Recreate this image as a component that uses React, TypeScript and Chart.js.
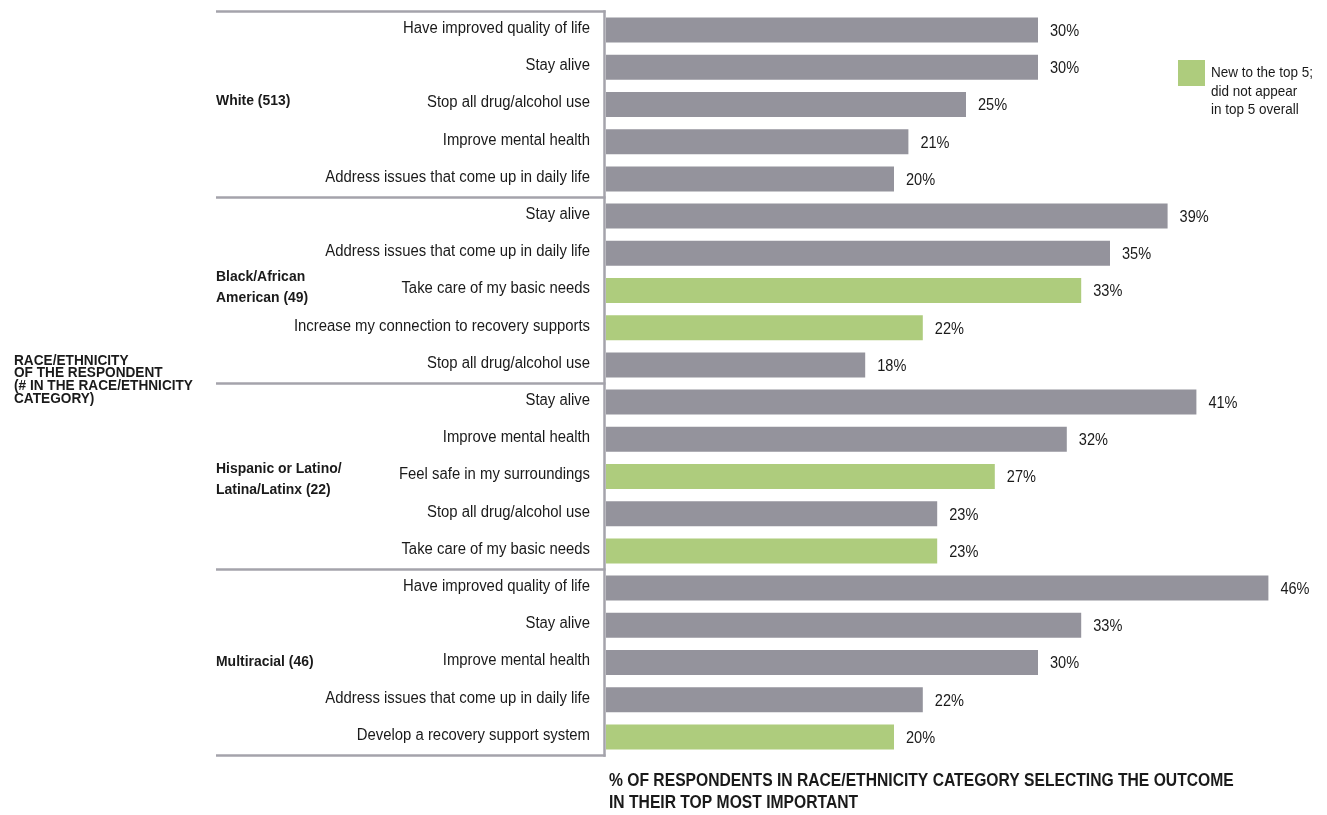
import React, { useEffect, useRef } from "react";
import { Chart, registerables } from "chart.js";

Chart.register(...registerables);

const groupNames: string[][] = [
  ["White (513)"],
  ["Black/African", "American (49)"],
  ["Hispanic or Latino/", "Latina/Latinx (22)"],
  ["Multiracial (46)"],
];

const whiteOutcomes = ["Have improved quality of life", "Stay alive", "Stop all drug/alcohol use", "Improve mental health", "Address issues that come up in daily life"];
const whiteValues = [30, 30, 25, 21, 20];
const whiteNew = [false, false, false, false, false];

const blackOutcomes = ["Stay alive", "Address issues that come up in daily life", "Take care of my basic needs", "Increase my connection to recovery supports", "Stop all drug/alcohol use"];
const blackValues = [39, 35, 33, 22, 18];
const blackNew = [false, false, true, true, false];

const hispanicOutcomes = ["Stay alive", "Improve mental health", "Feel safe in my surroundings", "Stop all drug/alcohol use", "Take care of my basic needs"];
const hispanicValues = [41, 32, 27, 23, 23];
const hispanicNew = [false, false, true, false, true];

const multiOutcomes = ["Have improved quality of life", "Stay alive", "Improve mental health", "Address issues that come up in daily life", "Develop a recovery support system"];
const multiValues = [46, 33, 30, 22, 20];
const multiNew = [false, false, false, false, true];

const leftTitle = ["RACE/ETHNICITY", "OF THE RESPONDENT", "(# IN THE RACE/ETHNICITY", "CATEGORY)"];
const bottomTitle = ["% OF RESPONDENTS IN RACE/ETHNICITY CATEGORY SELECTING THE OUTCOME", "IN THEIR TOP MOST IMPORTANT"];
const legendLines = ["New to the top 5;", "did not appear", "in top 5 overall"];

const GREY = "#94939c";
const GREEN = "#aecc7d";
const LINE = "#a4a3ab";
const TEXT = "#1a1a1a";
const FONT = '"Liberation Sans", Arial, sans-serif';

function drawText(
  ctx: CanvasRenderingContext2D,
  text: string,
  x: number,
  y: number,
  font: string,
  sx: number,
  align: CanvasTextAlign = "left"
) {
  ctx.save();
  ctx.font = font;
  ctx.textAlign = align;
  ctx.textBaseline = "middle";
  ctx.translate(x, y);
  ctx.scale(sx, 1);
  ctx.fillText(text, 0, 0);
  ctx.restore();
}

export default function App() {
  const ref = useRef<HTMLCanvasElement>(null);
  useEffect(() => {
    const outcomes = [...whiteOutcomes, ...blackOutcomes, ...hispanicOutcomes, ...multiOutcomes];
    const values = [...whiteValues, ...blackValues, ...hispanicValues, ...multiValues];
    const isNew = [...whiteNew, ...blackNew, ...hispanicNew, ...multiNew];
    const groupSize = 5;
    const groupOffsets = [-4, -3.5, 3, -1];

    const overlay = {
      id: "overlay",
      afterDraw(chart: any) {
        const ctx = chart.ctx as CanvasRenderingContext2D;
        const y = chart.scales.y;
        const x = chart.scales.x;
        const area = chart.chartArea;
        const half = (y.getPixelForValue(1) - y.getPixelForValue(0)) / 2;
        ctx.save();
        ctx.fillStyle = TEXT;
        // category labels
        const labels: string[] = chart.data.labels;
        labels.forEach((t, i) => {
          drawText(ctx, t, area.left - 16, y.getPixelForValue(i) - 1.5, `16px ${FONT}`, 0.93, "right");
        });
        // separators
        ctx.strokeStyle = LINE;
        ctx.lineWidth = 2.5;
        for (let g = 0; g <= groupNames.length; g++) {
          const idx = g * groupSize;
          const py = idx < labels.length ? y.getPixelForValue(idx) - half : y.getPixelForValue(labels.length - 1) + half;
          ctx.beginPath();
          ctx.moveTo(216, py);
          ctx.lineTo(area.left - 0.5, py);
          ctx.stroke();
        }
        // axis line
        ctx.beginPath();
        ctx.moveTo(area.left - 1.5, y.getPixelForValue(0) - half - 1.2);
        ctx.lineTo(area.left - 1.5, y.getPixelForValue(labels.length - 1) + half + 1.2);
        ctx.stroke();

        // value labels
        values.forEach((v, i) => {
          drawText(ctx, `${v}%`, x.getPixelForValue(v) + 12, y.getPixelForValue(i) + 1.5, `16px ${FONT}`, 0.91);
        });

        // group labels
        groupNames.forEach((lines, g) => {
          const cy = y.getPixelForValue(g * groupSize + 2) + groupOffsets[g];
          const lh = 21;
          lines.forEach((t, k) => {
            drawText(ctx, t, 216, cy + (k - (lines.length - 1) / 2) * lh, `bold 15px ${FONT}`, 0.93);
          });
        });

        // left title
        leftTitle.forEach((t, k) => {
          drawText(ctx, t, 14, 361 + k * 12.6, `bold 14px ${FONT}`, 0.975);
        });

        // bottom title
        bottomTitle.forEach((t, k) => {
          drawText(ctx, t, 609, 781 + k * 22, `bold 18px ${FONT}`, 0.87);
        });

        // legend
        ctx.fillStyle = GREEN;
        ctx.fillRect(1178, 60, 27, 26);
        ctx.fillStyle = TEXT;
        legendLines.forEach((t, k) => {
          drawText(ctx, t, 1211, 73 + k * 18.5, `14.5px ${FONT}`, 0.93);
        });
        ctx.restore();
      },
    };

    const chart = new Chart(ref.current!, {
      type: "bar",
      data: {
        labels: outcomes,
        datasets: [
          {
            data: values,
            backgroundColor: isNew.map((n) => (n ? GREEN : GREY)),
            borderWidth: 0,
            barPercentage: 0.672,
            categoryPercentage: 1,
          },
        ],
      },
      options: {
        indexAxis: "y",
        responsive: false,
        animation: false,
        layout: { padding: { top: 11.5, bottom: 59.5, left: 0, right: 1 } },
        plugins: { legend: { display: false }, tooltip: { enabled: false } },
        scales: {
          x: { display: false, min: 0, max: 50 },
          y: {
            grid: { display: false, drawTicks: false },
            border: { display: false },
            ticks: { display: false },
            afterFit(scale: any) {
              scale.width = 606;
              scale.paddingTop = 0;
              scale.paddingBottom = 0;
            },
          },
        },
      },
      plugins: [overlay],
    });
    return () => chart.destroy();
  }, []);
  return (
    <div style={{ position: "fixed", left: 0, top: 0, width: 1327, height: 815, background: "#fff" }}>
      <canvas ref={ref} width={1327} height={815} />
    </div>
  );
}
